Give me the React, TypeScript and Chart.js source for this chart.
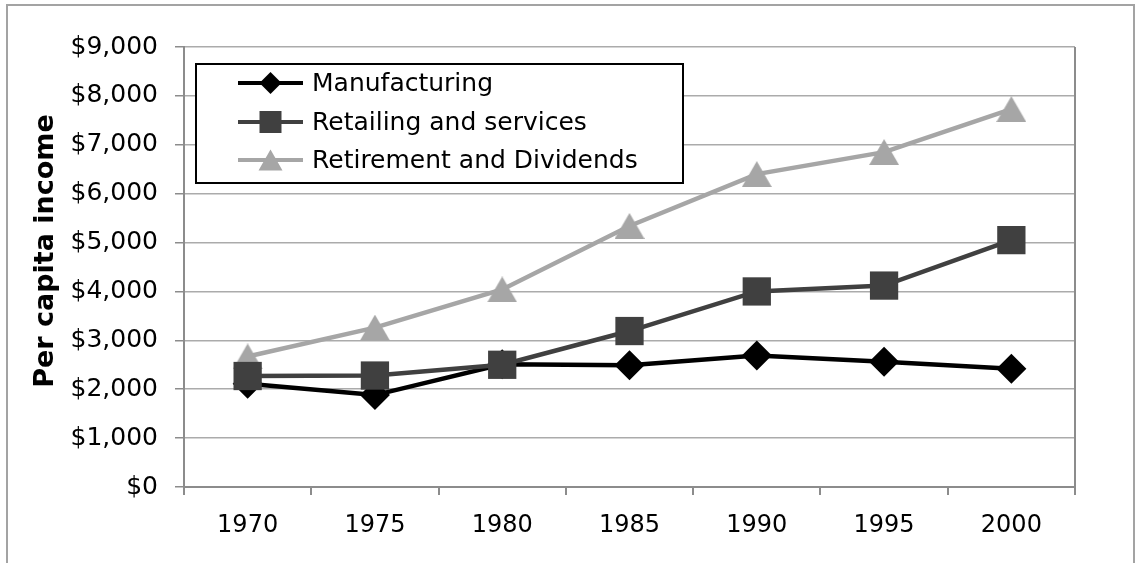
import React, { useEffect, useRef } from 'react';
import { Chart, registerables } from 'chart.js';

Chart.register(...registerables);

const years = ['1970', '1975', '1980', '1985', '1990', '1995', '2000'];
const manufacturing = [2110, 1880, 2510, 2490, 2690, 2560, 2420];
const retailing = [2270, 2280, 2500, 3190, 4000, 4120, 5050];
const retirement = [2670, 3260, 4040, 5340, 6400, 6850, 7730];
const yTickValues = [0, 1000, 2000, 3000, 4000, 5000, 6000, 7000, 8000, 9000];
const seriesNames = ['Manufacturing', 'Retailing and services', 'Retirement and Dividends'];
const yTitle = 'Per capita income';

const FONT = "'DejaVu Sans', Verdana, sans-serif";
const C_MAN = '#000000';
const C_RET = '#404040';
const C_RTD = '#a6a6a6';

function makeTriangle(w: number, h: number, color: string) {
  const c = document.createElement('canvas');
  c.width = w;
  c.height = h;
  const ctx = c.getContext('2d')!;
  ctx.fillStyle = color;
  ctx.beginPath();
  ctx.moveTo(w / 2, 0);
  ctx.lineTo(w, h);
  ctx.lineTo(0, h);
  ctx.closePath();
  ctx.fill();
  return c;
}

function drawMarker(ctx: CanvasRenderingContext2D, kind: string, x: number, y: number, color: string) {
  ctx.fillStyle = color;
  ctx.beginPath();
  if (kind === 'diamond') {
    const r = 11;
    ctx.moveTo(x - r, y);
    ctx.lineTo(x, y - r);
    ctx.lineTo(x + r, y);
    ctx.lineTo(x, y + r);
  } else if (kind === 'square') {
    const s = 11;
    ctx.rect(x - s, y - s, 2 * s, 2 * s);
  } else {
    const w = 24, h = 21;
    ctx.moveTo(x, y - h / 2);
    ctx.lineTo(x + w / 2, y + h / 2);
    ctx.lineTo(x - w / 2, y + h / 2);
  }
  ctx.closePath();
  ctx.fill();
}

const framePlugin = {
  id: 'frame',
  beforeDatasetsDraw(chart: any) {
    const { ctx, chartArea } = chart;
    ctx.save();
    ctx.strokeStyle = '#8c8c8c';
    ctx.lineWidth = 2;
    ctx.beginPath();
    ctx.moveTo(chartArea.right, chartArea.top);
    ctx.lineTo(chartArea.right, chartArea.bottom);
    ctx.stroke();
    ctx.restore();
  },
  afterDraw(chart: any) {
    const { ctx } = chart;
    ctx.save();
    // y axis title
    ctx.translate(46, 251);
    ctx.rotate(-Math.PI / 2);
    ctx.fillStyle = '#000';
    ctx.font = `bold 27px ${FONT}`;
    ctx.textAlign = 'center';
    ctx.textBaseline = 'middle';
    ctx.fillText(yTitle, 0, 0);
    ctx.restore();

    // legend box
    ctx.save();
    ctx.fillStyle = '#ffffff';
    ctx.fillRect(196, 64, 487, 119);
    ctx.strokeStyle = '#000';
    ctx.lineWidth = 2;
    ctx.strokeRect(196, 64, 487, 119);
    const rows = [83, 122, 160];
    const colors = [C_MAN, C_RET, C_RTD];
    const kinds = ['diamond', 'square', 'triangle'];
    rows.forEach((ry, i) => {
      ctx.strokeStyle = colors[i];
      ctx.lineWidth = 4;
      ctx.beginPath();
      ctx.moveTo(238, ry);
      ctx.lineTo(303, ry);
      ctx.stroke();
      drawMarker(ctx, kinds[i], 270.5, ry, colors[i]);
      ctx.fillStyle = '#000';
      ctx.font = `25px ${FONT}`;
      ctx.textAlign = 'left';
      ctx.textBaseline = 'middle';
      ctx.fillText(seriesNames[i], 312, ry + 1);
    });
    ctx.restore();
  },
};

export default function App() {
  const ref = useRef<HTMLCanvasElement | null>(null);

  useEffect(() => {
    if (!ref.current) return;
    const tri = makeTriangle(30, 26, C_RTD);
    const chart = new Chart(ref.current, {
      type: 'line',
      data: {
        labels: years,
        datasets: [
          {
            label: seriesNames[0],
            data: manufacturing,
            borderColor: C_MAN,
            backgroundColor: C_MAN,
            borderWidth: 4.5,
            pointStyle: 'rectRot',
            pointRadius: 15,
            pointBorderWidth: 0,
            pointBackgroundColor: C_MAN,
            tension: 0,
            order: 1,
          },
          {
            label: seriesNames[1],
            data: retailing,
            borderColor: C_RET,
            backgroundColor: C_RET,
            borderWidth: 4.5,
            pointStyle: 'rect',
            pointRadius: 20,
            pointBorderWidth: 0,
            pointBackgroundColor: C_RET,
            tension: 0,
            order: 0,
          },
          {
            label: seriesNames[2],
            data: retirement,
            borderColor: C_RTD,
            backgroundColor: C_RTD,
            borderWidth: 4.5,
            pointStyle: tri as any,
            pointRadius: 15,
            pointBorderWidth: 0,
            pointBackgroundColor: C_RTD,
            tension: 0,
            order: 2,
          },
        ],
      },
      options: {
        responsive: false,
        animation: false,
        layout: { padding: { top: 47, right: 61, left: 0, bottom: 0 } },
        plugins: {
          legend: { display: false },
          tooltip: { enabled: false },
          title: { display: false },
        },
        scales: {
          x: {
            offset: true,
            ticks: { padding: 16, color: '#000', font: { family: FONT, size: 24 }, maxRotation: 0 },
            grid: {
              offset: true,
              drawOnChartArea: false,
              drawTicks: true,
              tickLength: 8,
              color: '#8c8c8c',
              lineWidth: 2,
            },
            border: { color: '#8c8c8c', width: 2 },
            afterFit: (s: any) => {
              s.height = 76;
            },
          },
          y: {
            min: 0,
            max: 9000,
            afterBuildTicks: (s: any) => {
              s.ticks = yTickValues.map((v) => ({ value: v }));
            },
            ticks: {
              padding: 17,
              color: '#000',
              font: { family: FONT, size: 25 },
              callback: (v: any) => '$' + Number(v).toLocaleString('en-US'),
            },
            grid: {
              color: '#ababab',
              lineWidth: 1.5,
              drawTicks: true,
              tickLength: 9,
              tickColor: '#8c8c8c',
            },
            border: { color: '#8c8c8c', width: 2 },
            afterFit: (s: any) => {
              s.width = 184;
            },
          },
        },
      },
      plugins: [framePlugin],
    });
    return () => chart.destroy();
  }, []);

  return (
    <div
      style={{
        position: 'absolute',
        left: 0,
        top: 0,
        width: 1136,
        height: 563,
        overflow: 'hidden',
        background: '#fff',
      }}
    >
      <div
        style={{
          position: 'absolute',
          left: 6,
          top: 4,
          width: 1129,
          height: 600,
          border: '2px solid #a3a3a3',
          boxSizing: 'border-box',
        }}
      />
      <canvas
        ref={ref}
        width={1136}
        height={563}
        style={{ position: 'absolute', left: 0, top: 0, width: 1136, height: 563 }}
      />
    </div>
  );
}
